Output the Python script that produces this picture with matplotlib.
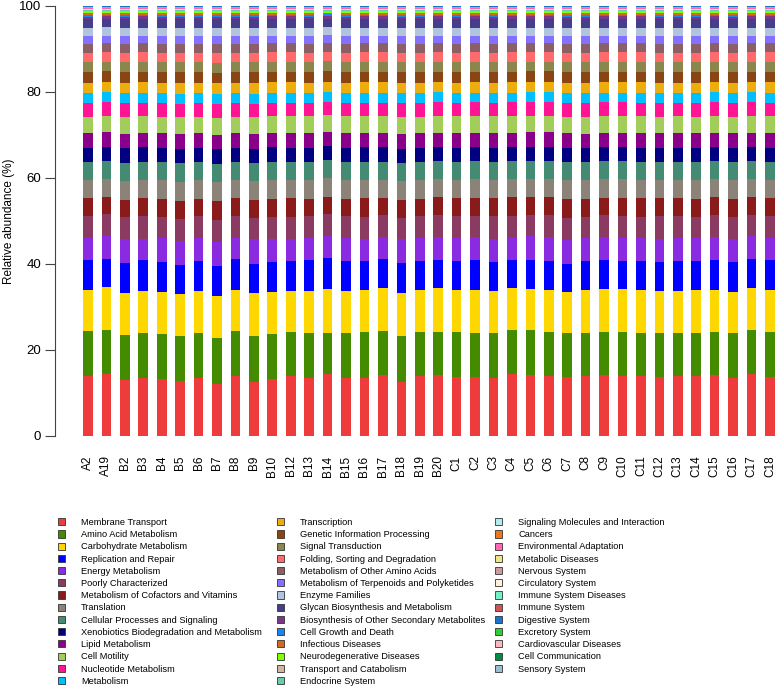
import numpy as np
import matplotlib
matplotlib.use('Agg')
import matplotlib.pyplot as plt
from matplotlib.patches import Patch

plt.rcParams['font.family'] = ['Liberation Sans', 'DejaVu Sans']

samples = ['A2', 'A19', 'B2', 'B3', 'B4', 'B5', 'B6', 'B7', 'B8', 'B9', 'B10',
           'B12', 'B13', 'B14', 'B15', 'B16', 'B17', 'B18', 'B19', 'B20',
           'C1', 'C2', 'C3', 'C4', 'C5', 'C6', 'C7', 'C8', 'C9', 'C10', 'C11',
           'C12', 'C13', 'C14', 'C15', 'C16', 'C17', 'C18']

categories = [
    'Membrane Transport', 'Amino Acid Metabolism', 'Carbohydrate Metabolism',
    'Replication and Repair', 'Energy Metabolism', 'Poorly Characterized',
    'Metabolism of Cofactors and Vitamins', 'Translation',
    'Cellular Processes and Signaling', 'Xenobiotics Biodegradation and Metabolism',
    'Lipid Metabolism', 'Cell Motility', 'Nucleotide Metabolism', 'Metabolism',
    'Transcription', 'Genetic Information Processing', 'Signal Transduction',
    'Folding, Sorting and Degradation', 'Metabolism of Other Amino Acids',
    'Metabolism of Terpenoids and Polyketides', 'Enzyme Families',
    'Glycan Biosynthesis and Metabolism', 'Biosynthesis of Other Secondary Metabolites',
    'Cell Growth and Death', 'Infectious Diseases', 'Neurodegenerative Diseases',
    'Transport and Catabolism', 'Endocrine System',
    'Signaling Molecules and Interaction', 'Cancers', 'Environmental Adaptation',
    'Metabolic Diseases', 'Nervous System', 'Circulatory System',
    'Immune System Diseases', 'Immune System', 'Digestive System',
    'Excretory System', 'Cardiovascular Diseases', 'Cell Communication',
    'Sensory System']

colors = ['#EE3B3B', '#458B00', '#FFD700', '#0000FF', '#8A2BE2', '#8B3A62',
          '#8B1A1A', '#8B8378', '#458B74', '#000080', '#8B008B', '#A2CD5A',
          '#FF1493', '#00BFFF', '#EEAD0E', '#8B4513', '#8B864E', '#FF6A6A',
          '#8B5F65', '#8470FF', '#B0C4DE', '#483D8B', '#7A378B', '#1C86EE',
          '#D2691E', '#7FFF00', '#CDB79E', '#66CDAA', '#AEEEEE', '#EE7621',
          '#FF69B4', '#EEE685', '#CD9B9B', '#FFEFDB', '#76EEC6', '#CD5555',
          '#1874CD', '#32CD32', '#FFB6C1', '#008B45', '#9AC0CD']

# per-sample values (%) for the largest pathways
membrane_transport = [13.95, 14.6, 13.0, 13.6, 13.3, 12.6, 13.4, 11.9, 13.95, 12.6, 13.3, 13.95, 13.6, 14.6, 13.6, 13.6, 14.2, 12.6, 13.95,
                      14.3, 13.8, 13.8, 13.6, 14.4, 14.3, 14.2, 13.8, 13.9, 14.3, 14.1, 13.9, 13.8, 13.9, 13.9, 14.3, 13.6, 14.5, 13.8]
amino_acid = [10.4, 10.4, 10.5, 10.5, 10.5, 10.5, 10.6, 10.6, 10.4, 10.5, 10.5, 10.4, 10.5, 9.8, 10.3, 10.8, 10.3, 10.5, 10.3,
              10.0, 10.4, 10.4, 10.4, 10.5, 10.5, 10.2, 10.1, 10.1, 10.1, 10.2, 10.2, 10.2, 10.1, 10.1, 10.0, 10.4, 10.4, 10.5]
carbohydrate = [9.7, 9.9, 9.6, 9.8, 9.8, 9.6, 9.8, 9.7, 9.6, 9.9, 9.8, 9.6, 9.8, 10.3, 9.9, 9.7, 10.0, 10.0, 9.8,
                10.3, 9.8, 10.0, 9.8, 9.7, 9.8, 9.8, 9.5, 9.9, 9.9, 10.0, 9.9, 9.8, 9.8, 10.0, 10.0, 9.6, 9.7, 9.7]
replication = [6.8, 6.7, 7.1, 7.1, 6.9, 6.8, 6.9, 7.1, 7.1, 6.8, 7.1, 6.9, 7.1, 7.4, 7.1, 6.8, 6.8, 6.9, 6.8,
               6.7, 6.8, 6.9, 6.8, 6.6, 6.8, 7.0, 6.7, 6.7, 6.9, 6.7, 6.8, 6.7, 7.0, 6.7, 6.9, 6.9, 6.9, 7.0]
energy = [5.2, 5.4, 5.5, 5.1, 5.5, 5.5, 5.4, 5.4, 5.0, 5.7, 5.4, 5.2, 5.1, 5.2, 5.2, 5.2, 5.3, 5.7, 5.2,
          5.3, 5.4, 5.4, 5.4, 5.3, 5.5, 5.5, 5.5, 5.4, 5.3, 5.4, 5.4, 5.4, 5.4, 5.3, 5.4, 5.4, 5.3, 5.3]
poorly = [5.1, 5.1, 5.2, 5.2, 5.0, 5.2, 5.1, 5.1, 5.1, 5.0, 5.1, 5.1, 5.1, 5.1, 5.1, 5.1, 5.0, 4.8, 5.1,
          5.1, 5.0, 5.1, 5.2, 5.0, 5.1, 5.1, 5.2, 5.0, 5.1, 5.1, 5.0, 5.2, 5.1, 5.0, 5.1, 5.2, 5.0, 5.1]
cofactors = [4.1, 4.1, 4.0, 4.3, 4.2, 4.2, 4.0, 4.4, 4.1, 4.1, 4.1, 4.5, 4.1, 4.0, 4.1, 4.5, 4.1, 4.3, 4.0,
             4.2, 4.3, 4.1, 4.2, 4.3, 4.1, 4.2, 4.4, 4.2, 4.1, 4.2, 4.3, 4.2, 4.1, 4.2, 4.3, 4.2, 4.1, 4.2]
translation = [4.2, 4.3, 4.4, 4.3, 4.3, 4.4, 4.3, 4.4, 4.2, 4.3, 4.6, 4.2, 4.4, 4.5, 4.4, 4.2, 4.2, 4.3, 4.5,
               4.3, 4.2, 4.4, 4.3, 4.2, 4.3, 4.4, 4.3, 4.2, 4.3, 4.4, 4.3, 4.2, 4.3, 4.4, 4.2, 4.3, 4.3, 4.2]

# typical values (%) for the remaining pathways, nearly the same in all samples
other_pathways = [4.2, 3.3, 3.4, 3.9, 3.2, 2.3, 2.4, 2.5, 2.3, 2.2, 2.1, 1.8, 1.9, 2.1,
                  0.5, 0.45, 0.35, 0.3, 0.25, 0.2, 0.15, 0.15, 0.12, 0.1, 0.08, 0.06,
                  0.06, 0.05, 0.04, 0.03, 0.03, 0.02, 0.01]

major = np.array([membrane_transport, amino_acid, carbohydrate, replication,
                  energy, poorly, cofactors, translation])
rest = np.repeat(np.array(other_pathways)[:, None], len(samples), axis=1)
data = np.vstack([major, rest])
data = data / data.sum(axis=0) * 100

W, H = 778, 687
fig = plt.figure(figsize=(W / 100, H / 100), dpi=100)
ax = fig.add_axes([55 / W, 1 - 436 / H, 723 / W, 430 / H])

x = np.arange(len(samples))
bottom = np.zeros(len(samples))
for i in range(len(categories)):
    ax.bar(x, data[i], 0.52, bottom=bottom, color=colors[i], linewidth=0)
    bottom += data[i]

ax.set_xlim(-1.79, 37.44)
ax.set_ylim(0, 100)
for s in ['top', 'right', 'bottom']:
    ax.spines[s].set_visible(False)
ax.spines['left'].set_color('#444444')
ax.set_yticks([0, 20, 40, 60, 80, 100])
ax.tick_params(axis='y', length=7, width=0.8, color='#444444', labelsize=9.5, pad=3)
ax.set_xticks(x)
ax.set_xticklabels(samples, rotation=90, fontsize=8.5)
ax.tick_params(axis='x', length=0, pad=14)
ax.set_ylabel('Relative abundance (%)', fontsize=8.5)
ax.yaxis.set_label_coords(-40 / 723, 0.5)

handles = [Patch(facecolor=c, edgecolor='#333333', linewidth=0.6) for c in colors]
cols = [(0, 14, 58), (14, 28, 277), (28, 41, 495)]
for a, b, px in cols:
    leg = fig.legend(handles[a:b], categories[a:b], loc='upper left',
                     bbox_to_anchor=(px / W, 1 - 518 / H), frameon=False,
                     fontsize=6.7, handlelength=0.8, handleheight=0.8,
                     handletextpad=1.7, labelspacing=0.345, borderpad=0,
                     borderaxespad=0)

fig.savefig('out.png', dpi=100)
